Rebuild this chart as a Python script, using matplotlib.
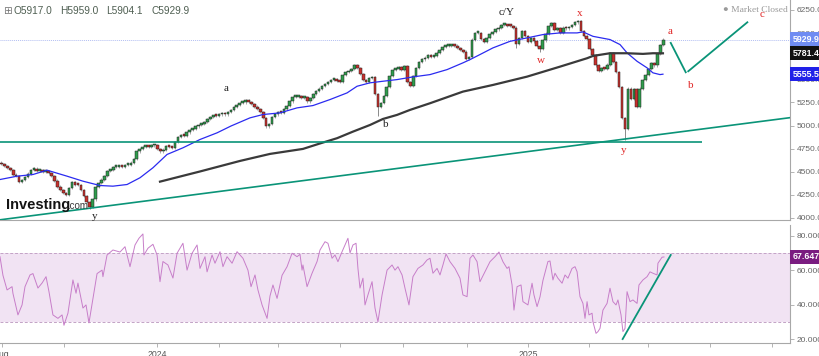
import matplotlib
matplotlib.use("Agg")
import numpy as np
import matplotlib.pyplot as plt
import matplotlib.transforms as mtransforms

plt.rcParams['font.family'] = ['Liberation Sans', 'DejaVu Sans']

# ---------- Data (x in trading days) ----------
# closes, one candle per two trading days
close = [
    4580, 4565, 4540, 4515, 4470, 4450, 4390, 4410, 4440, 4480,
    4520, 4535, 4505, 4515, 4500, 4510, 4490, 4450, 4405, 4340,
    4300, 4270, 4250, 4320, 4385, 4360, 4355, 4300, 4240, 4170,
    4120, 4200, 4340, 4380, 4415, 4450, 4505, 4515, 4550, 4555,
    4560, 4555, 4570, 4575, 4600, 4640, 4720, 4750, 4765, 4775,
    4770, 4785, 4790, 4745, 4720, 4740, 4775, 4765, 4755, 4820,
    4875, 4900, 4890, 4925, 4955, 4960, 4990, 5005, 5015, 5040,
    5070, 5090, 5105, 5100, 5120, 5135, 5120, 5150, 5170, 5200,
    5225, 5245, 5250, 5280, 5255, 5230, 5205, 5180, 5150, 5080,
    4990, 5020, 5090, 5120, 5145, 5135, 5180, 5210, 5260, 5305,
    5310, 5315, 5295, 5305, 5260, 5300, 5340, 5370, 5400, 5430,
    5450, 5470, 5495, 5500, 5480, 5470, 5545, 5575, 5590, 5610,
    5655, 5620, 5560, 5490, 5470, 5510, 5520, 5340, 5200, 5240,
    5320, 5420, 5540, 5600, 5615, 5630, 5605, 5640, 5470, 5430,
    5540, 5625, 5690, 5715, 5735, 5765, 5740, 5755, 5790, 5815,
    5850, 5860, 5865, 5875, 5865, 5840, 5815, 5800, 5720, 5745,
    5930, 6000, 6000, 5940, 5905, 5950, 5990, 6015, 6040, 6060,
    6085, 6090, 6080, 6075, 6060, 5880, 5950, 6020, 5970, 5905,
    5945, 5910, 5860, 5830, 5920, 5995, 6080, 6110, 6030, 6055,
    6000, 6060, 6050, 6065, 6085, 6115, 6135, 6020, 5965, 5935,
    5830, 5760, 5650, 5590, 5620, 5610, 5660, 5780, 5690, 5580,
    5420, 5080, 4960, 5400, 5290, 5390, 5200, 5400, 5490, 5545,
    5610, 5680, 5650, 5770, 5870, 5929.9,
]
first_open = 4600
# long lower wicks worth drawing
wick_idx = [30, 128, 175, 183, 212]
wick_low = [4100, 5100, 5840, 5800, 4840]

ma50_day = [0, 11.6, 22.4, 32, 45.6, 56.4, 68, 76.8, 86.4, 95.2, 104, 113.6, 124.4,
            136, 147.6, 157.1, 170, 178.8, 190.4, 202, 212.8, 224.4, 236, 242.8,
            251.6, 260.4, 270, 280.8, 292.4, 304, 314.8, 319.6, 326.4, 335.2, 346.8,
            358.4, 369.2, 380.8, 392.4, 396.4, 403.2, 414.8, 421.6, 426.4, 433.2,
            440, 444, 448.8, 450.8]
ma50_val = [4416, 4452, 4470, 4517, 4452, 4398, 4351, 4344, 4362, 4435, 4543, 4687,
            4759, 4849, 4921, 4995, 5083, 5119, 5137, 5191, 5216, 5281, 5353, 5425,
            5462, 5479, 5497, 5526, 5551, 5605, 5678, 5713, 5768, 5840, 5911, 5948,
            5984, 6002, 6002, 6013, 5965, 5930, 5876, 5786, 5695, 5624, 5570, 5551,
            5555.5]

ma200_day = [108.8, 136, 163.2, 183.6, 206, 217.6, 229.2, 240, 251.6, 260.4, 270,
             278.8, 292.4, 314.8, 335.2, 358.4, 380.8, 399.2, 403.2, 414.8, 426.4,
             437.2, 444, 450.8]
ma200_val = [4393, 4503, 4617, 4693, 4747, 4806, 4863, 4934, 5006, 5071, 5115, 5169,
             5241, 5367, 5439, 5529, 5637, 5728, 5753, 5782, 5782, 5775, 5782, 5781.4]

rsi_day = [0, 2, 4.8, 8.2, 8.8, 12.2, 15, 17, 20.4, 22.4, 25.8, 28.6, 31.3, 33.3, 36,
           39.4, 42.2, 43.5, 46.2, 49.6, 51.7, 53, 56.4, 58.5, 60.5, 66, 69.4, 70,
           72.8, 76.8, 81.6, 85, 88.4, 91.8, 94.5, 97.2, 97.9, 100.6, 104, 106.8,
           108.8, 110.8, 114.2, 117.6, 120.4, 124.4, 127.2, 130.6, 134, 136, 139.4,
           140.8, 144.2, 146.2, 149.6, 151.6, 154.4, 157.8, 161.2, 165.2, 168.6,
           170.7, 173.4, 175.4, 178.2, 181.6, 183.6, 185.6, 188.4, 191.8, 195.2,
           198.6, 202, 204, 205.4, 206, 208.8, 212.2, 215.6, 217.6, 221, 223,
           225.8, 227.8, 229.8, 232.6, 234.6, 236.6, 238, 240, 242.1, 243.4, 244.8,
           246.8, 248.2, 250.2, 253, 255, 257, 259.8, 263.2, 266.6, 268.6, 270.6,
           273.4, 275.4, 278.1, 280.8, 284.2, 287.6, 290.4, 292.4, 294.4, 297.2,
           299.2, 301.2, 303.3, 306, 309.4, 312.8, 314.8, 317.6, 319.6, 321.6,
           324.4, 326.4, 329.8, 333.2, 336.6, 339.3, 342, 344.8, 346.1, 348.2,
           349.5, 351.6, 354.3, 355.6, 359, 361.8, 363.1, 365.2, 367.2, 369.2,
           372.6, 374, 376, 377.4, 379.4, 382.2, 384.2, 386.2, 389, 391, 392.4,
           394.4, 396.4, 397.8, 399.2, 400.5, 402.6, 403.2, 405.3, 406.6, 408, 410,
           412.8, 414.8, 416.8, 418.9, 420.2, 422.3, 423.6, 425, 426.4, 428.4,
           430.4, 433.2, 434.5, 437.2, 440, 442, 444, 446.8, 447.4, 450.2, 451.5]
rsi_val = [67.8, 57, 48.5, 50.4, 46.5, 34, 39.8, 50.4, 57.2, 58, 49.6, 52.5, 56.2, 47.5,
           34, 32, 34, 28, 35, 54.3, 46.6, 52.5, 38, 39.8, 29.4, 58, 60, 56.2, 68.8,
           71.7, 70.5, 73.6, 62, 74.6, 78.5, 81, 68.8, 72.7, 75, 68.8, 53.3, 65, 63,
           55.4, 69.8, 75.6, 60, 69.8, 74.6, 61, 67.8, 59, 68.8, 64, 70.7, 62, 67.8,
           64, 70.7, 66.9, 60, 50.4, 57.2, 48.5, 39.8, 32, 45, 51.4, 43.6, 57, 62,
           69.8, 67.8, 69.2, 60, 63, 50.4, 58.2, 65, 71.7, 76.5, 75.6, 66.9, 68.8,
           64.9, 70.7, 74.6, 78.5, 70, 74.6, 75.6, 61, 49.6, 55.3, 39.8, 45.6, 53.3,
           38, 30, 45.6, 60, 63, 60, 62, 57.2, 49.5, 39.8, 56.2, 61, 63, 65.9, 66.9,
           58.2, 61, 57.2, 63, 69.4, 64.9, 61, 55.3, 45.6, 44.6, 66.9, 68.8, 64.9,
           53.3, 59.1, 64.9, 67.8, 70.5, 64.9, 61, 62, 51.4, 36.8, 50.4, 51.4, 41.7,
           39.8, 52.4, 45.6, 38.8, 44.5, 54, 65, 65.3, 54.3, 58.2, 55.3, 52.4, 57.2,
           55.3, 61, 62, 59.1, 44.6, 40.7, 32, 41.7, 34, 35, 30, 23.3, 24.3, 26.2,
           36.8, 40.7, 49.5, 41.7, 39.8, 42.7, 34, 24.3, 26.2, 47.5, 41.7, 42.7,
           40.7, 51.4, 54.3, 56.2, 59, 58.2, 57.2, 64, 67.5, 67.6471]

header_keys = ['O', 'H', 'L', 'C']
header_vals = [5917.0, 5959.0, 5904.1, 5929.9]

support_level = 4827
support_end = 477.4
trend_day = [0, 537.2]
trend_val = [3980, 5085]
proj1_day = [456.1, 466.3]
proj1_val = [5894, 5576]
proj2_day = [468.0, 508.2]
proj2_val = [5587, 6117]
rsi_trend_day = [423.4, 456.1]
rsi_trend_val = [20.0, 68.8]

wave_text = ['a', 'b', 'y', 'c/Y', 'w', 'x', 'a', 'b', 'c', 'y']
wave_day = [153.5, 262.5, 64.6, 344.6, 367.7, 394.4, 455.6, 469.9, 518.2, 423.8]
wave_val = [5397, 5011, 4016, 6225, 5703, 6211, 6019, 5432, 6200, 4730]
wave_red = [False, False, False, False, True, True, True, True, True, True]

tick_days = [1.4, 43.5, 106.8, 148.9, 189, 231.2, 274, 317.5, 359, 400.5, 440.6, 482.8, 525]
tick_labels = ['Aug', '', '2024', '', '', '', '', '', '2025', '', '', '', '']

# ---------- Styles ----------
GREEN = '#2f9c4c'
RED = '#c9302c'
TEAL = '#0a9478'
GRID_GREY = '#a8a8a8'
TXT_GREY = '#666666'

fig = plt.figure(figsize=(8.2, 3.56), dpi=100)
ax1 = fig.add_axes([0, 1 - 220 / 356, 790 / 820, 220 / 356])
ax2 = fig.add_axes([0, 1 - 343 / 356, 790 / 820, 118 / 356])

xmax = 537.2
for ax in (ax1, ax2):
    ax.set_xlim(0, xmax)
    for s in ('top', 'left'):
        ax.spines[s].set_visible(False)
    for s in ('bottom', 'right'):
        ax.spines[s].set_color(GRID_GREY)
        ax.spines[s].set_linewidth(0.8)
    ax.yaxis.tick_right()
    ax.tick_params(axis='y', length=3, width=0.6, color=GRID_GREY,
                   labelsize=6, labelcolor=TXT_GREY, pad=2)

# ---------- Price panel ----------
ax1.set_ylim(3978, 6358)
ax1.set_yticks(np.arange(4000, 6251, 250))
ax1.set_yticklabels([f'{v:.1f}' for v in np.arange(4000, 6251, 250)])
ax1.set_xticks([])

c = np.array(close, dtype=float)
o = np.r_[first_open, c[:-1]]
days = np.arange(len(c)) * 2 + 1
up = c >= o
cols = np.where(up, GREEN, RED)
lo_body = np.minimum(o, c)
hi_body = np.maximum(o, c)
# thin grey wick through every candle, long ones where the picture shows them
ax1.vlines(days, lo_body - 12, hi_body + 12, color='#8a8a8a', lw=0.5, zorder=2)
for k, lo in zip(wick_idx, wick_low):
    ax1.vlines(days[k], lo, lo_body[k], color='#8a8a8a', lw=0.7, zorder=2)
height = np.maximum(hi_body - lo_body, 20)
ax1.bar(days, height, bottom=lo_body, width=1.75, color=cols,
        edgecolor='#222222', linewidth=0.35, zorder=3)

ax1.axhline(header_vals[3], color='#b3bff2', lw=0.7, ls=(0, (1, 1)), zorder=1)
ax1.plot(ma50_day, ma50_val, color='#2b2bf0', lw=0.9, zorder=4)
ax1.plot(ma200_day, ma200_val, color='#3a3a3a', lw=1.6, zorder=4)
ax1.hlines(support_level, 0, support_end, color=TEAL, lw=1.2, zorder=4)
ax1.plot(trend_day, trend_val, color=TEAL, lw=1.2, zorder=4)
ax1.plot(proj1_day, proj1_val, color=TEAL, lw=1.3, zorder=4)
ax1.plot(proj2_day, proj2_val, color=TEAL, lw=1.3, zorder=4)

for t, d, v, r in zip(wave_text, wave_day, wave_val, wave_red):
    ax1.text(d, v, t, ha='center', va='center', fontsize=8,
             family=['Liberation Serif', 'DejaVu Serif'],
             color='#e02525' if r else '#222222', zorder=6)

trans1 = mtransforms.blended_transform_factory(ax1.transAxes, ax1.transData)
for val, fc in ((header_vals[3], '#6f8cf2'), (ma200_val[-1], '#111111'),
                (ma50_val[-1], '#2121e8')):
    ax1.text(1.003, val, f'{val:.1f}', transform=trans1, ha='left', va='center',
             fontsize=6.3, color='white', weight='bold', clip_on=False, zorder=7,
             bbox=dict(boxstyle='square,pad=0.3', fc=fc, ec='none'))

# ---------- RSI panel ----------
ax2.set_ylim(17.7, 86.2)
ax2.axhspan(30, 70, color='#f1e3f3', lw=0, zorder=0)
ax2.axhline(70, color='#c3a3c6', lw=0.7, ls=(0, (3, 2)), zorder=1)
ax2.axhline(30, color='#c3a3c6', lw=0.7, ls=(0, (3, 2)), zorder=1)
ax2.plot(rsi_day, rsi_val, color='#c77ec9', lw=0.7, zorder=3)
ax2.plot(rsi_trend_day, rsi_trend_val, color=TEAL, lw=1.3, zorder=4)
ax2.set_yticks([20, 40, 60, 80])
ax2.set_yticklabels([f'{v:.4f}' for v in [20, 40, 60, 80]])
ax2.set_xticks(tick_days)
ax2.set_xticklabels(tick_labels)
ax2.tick_params(axis='x', length=3, width=0.6, color=GRID_GREY,
                labelsize=6.3, labelcolor='#555555', pad=2)
trans2 = mtransforms.blended_transform_factory(ax2.transAxes, ax2.transData)
ax2.text(1.003, rsi_val[-1], f'{rsi_val[-1]:.4f}', transform=trans2, ha='left',
         va='center', fontsize=6.3, color='white', weight='bold', clip_on=False,
         zorder=7, bbox=dict(boxstyle='square,pad=0.3', fc='#7a1c80', ec='none'))

# ---------- Header / branding ----------
W, H = 820.0, 356.0
fig.text(3 / W, 1 - 11 / H, '\u229e', fontsize=7.5, color='#777777',
         va='center', family='DejaVu Sans')
for i, (k, v) in enumerate(zip(header_keys, header_vals)):
    fig.text((14 + 46 * i) / W, 1 - 11 / H, f'{k}{v:.1f}', fontsize=7.3,
             color='#4f5f52', va='center')
fig.text(723 / W, 1 - 10 / H, '\u25cf Market Closed', fontsize=6.8, color='#9a9a9a',
         va='center', family=['Liberation Serif', 'DejaVu Serif'])
fig.text(6 / W, 1 - 209 / H, 'Investing', fontsize=10.5, weight='bold',
         color='#141414', va='baseline')
fig.text(67 / W, 1 - 209 / H, '.com', fontsize=7, color='#3a3a3a', va='baseline')

fig.savefig('out.png', dpi=100)
